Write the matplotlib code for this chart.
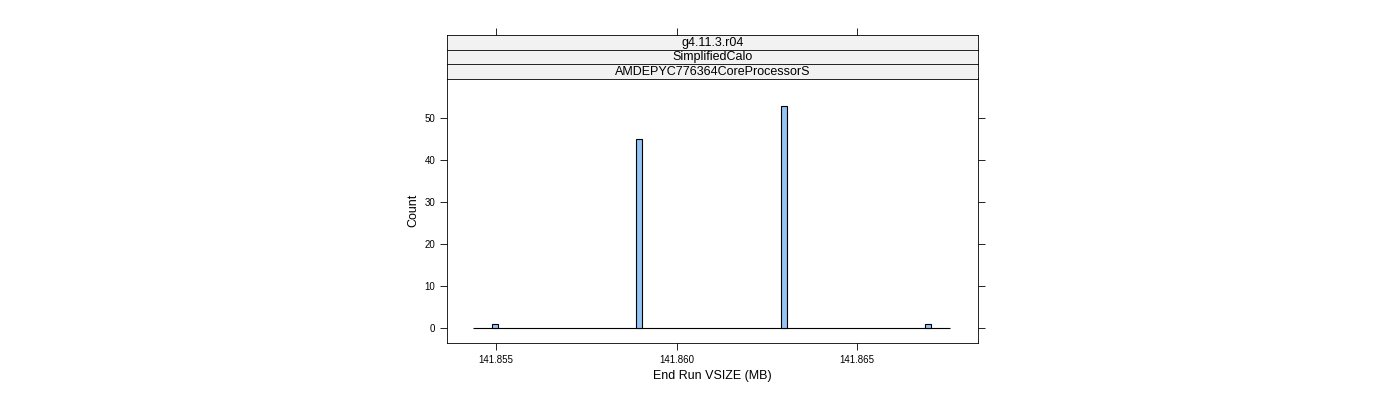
import matplotlib.pyplot as plt

# histogram data (nonzero bins), bin width and overall range
bin_centers = [141.85497, 141.85897, 141.86297, 141.86697]
counts = [1, 45, 53, 1]
bin_width = 0.000165
hist_range = (141.85436, 141.86758)
strips = ["g4.11.3.r04", "SimplifiedCalo", "AMDEPYC776364CoreProcessorS"]
xticks = [141.855, 141.860, 141.865]
yticks = [0, 10, 20, 30, 40, 50]

plt.rcParams['font.family'] = ['Liberation Sans', 'DejaVu Sans']

fig = plt.figure(figsize=(14, 4), dpi=100)
L, R = 447 / 1400, 978 / 1400
ax = fig.add_axes([L, 57 / 400, R - L, 265 / 400])

ax.bar(bin_centers, counts, width=bin_width, color='#94C4F5',
       edgecolor='black', linewidth=0.8, zorder=3)
ax.hlines(0, hist_range[0], hist_range[1], color='black', linewidth=0.8, zorder=2)
ax.set_xlim(141.85364, 141.86835)
ax.set_ylim(-3.64, 59.6)
ax.set_xticks(xticks)
ax.set_xticklabels(['%.3f' % v for v in xticks], fontsize=7)
ax.set_yticks(yticks)
ax.set_yticklabels([str(v) for v in yticks], fontsize=7)
ax.tick_params(axis='y', right=True, direction='out', length=5, width=0.6)
ax.tick_params(axis='x', direction='out', length=5, width=0.6)
for s in ax.spines.values():
    s.set_linewidth(0.6)
ax.set_xlabel('End Run VSIZE (MB)', fontsize=9)
ax.set_ylabel('Count', fontsize=9)

# strips on top
for i, label in enumerate(strips):
    top = 35 + 14.5 * i
    sax = fig.add_axes([L, (400 - top - 14.5) / 400, R - L, 14.5 / 400])
    sax.set_facecolor('#F2F2F2')
    sax.set_xticks([])
    sax.set_yticks([])
    for s in sax.spines.values():
        s.set_linewidth(0.6)
    sax.text(0.5, 0.45, label, ha='center', va='center', fontsize=9,
             transform=sax.transAxes)
    if i == 0:
        sax.set_xlim(ax.get_xlim())
        sax.set_xticks(xticks)
        sax.set_xticklabels([])
        sax.tick_params(axis='x', top=True, bottom=False, direction='out',
                        length=5, width=0.6)

fig.savefig('out.png', dpi=100)
